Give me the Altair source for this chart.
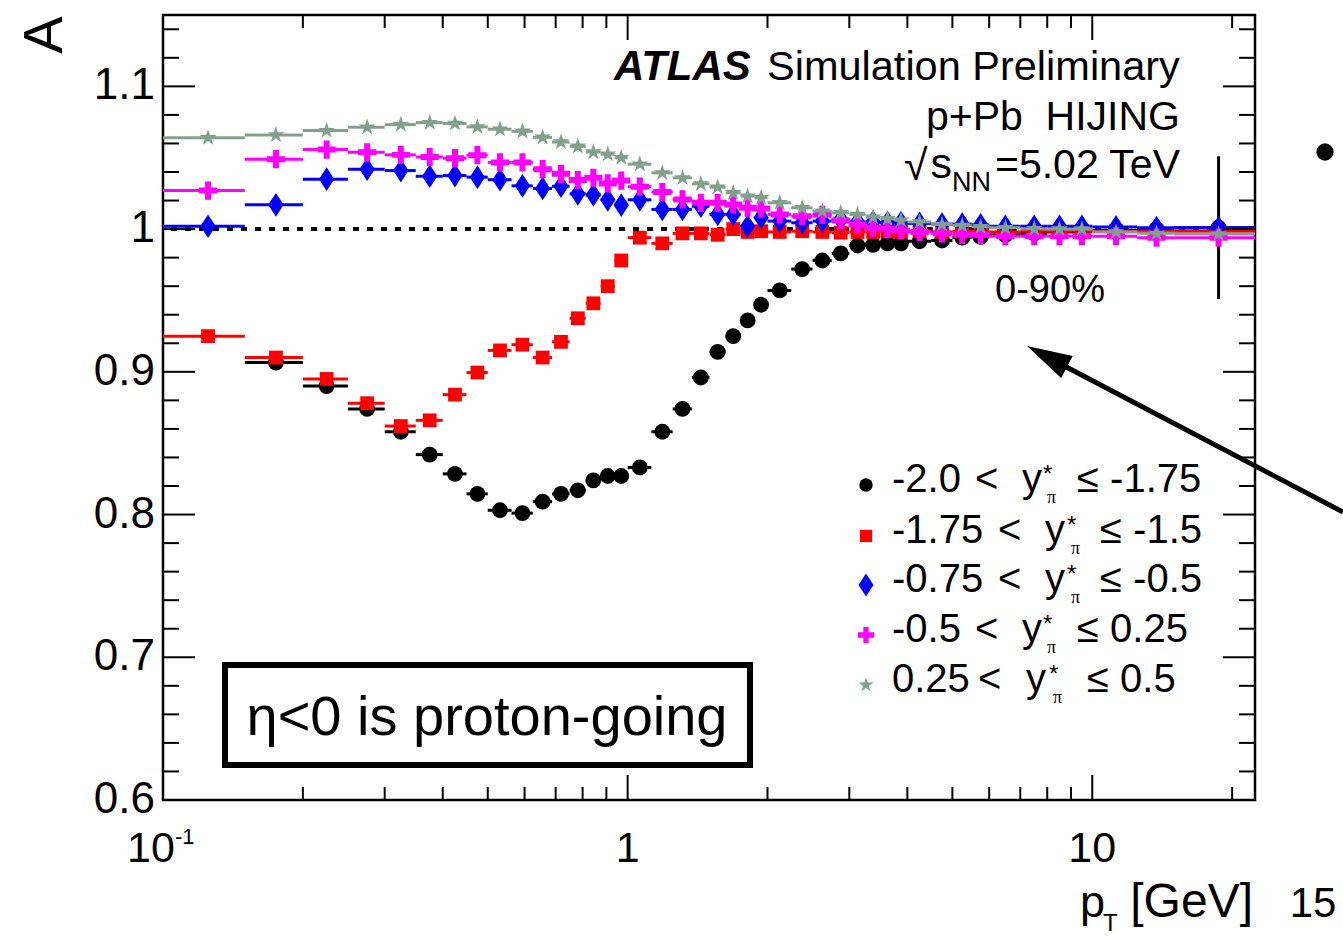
import altair as alt
import pandas as pd

# ---------------- data ----------------
edges = [0.1, 0.15, 0.2, 0.25, 0.3, 0.35, 0.4, 0.45, 0.5,
         0.5625, 0.625, 0.6875, 0.75, 0.8125, 0.875, 0.9375, 1.0,
         1.125, 1.25, 1.375, 1.5, 1.625, 1.75, 1.875, 2.0,
         2.25, 2.5, 2.75, 3.0, 3.25, 3.5, 3.75, 4.0,
         4.5, 5.0, 5.5, 6.0, 7.0, 8.0, 9.0, 10.0, 12.5, 15.0, 22.4]

black = [None, 0.9065, 0.890, 0.874, 0.858, 0.842, 0.8285, 0.8145, 0.803, 0.801,
         0.809, 0.8145, 0.817, 0.824, 0.827, 0.827, 0.833, 0.858, 0.874, 0.896,
         0.914, 0.925, 0.936, 0.947, 0.957, 0.972, 0.978, 0.983, 0.9885, 0.989,
         0.990, 0.990, 0.9915, 0.992, 0.994, 0.9945, 0.996, 0.997, 0.998, 0.998,
         0.999, 1.000, 1.001]
red = [0.925, 0.910, 0.895, 0.878, 0.862, 0.866, 0.884, 0.8995, 0.915, 0.919,
       0.910, 0.921, 0.9375, 0.948, 0.960, 0.978, 0.994, 0.990, 0.997, 0.997,
       0.996, 1.000, 0.998, 0.9985, 0.998, 0.9985, 0.998, 0.9975, 0.998, 0.998,
       0.9985, 0.998, 0.9985, 0.998, 0.9985, 0.9985, 0.998, 0.9985, 0.9985, 0.9985,
       0.9985, 0.9985, 0.9985]
blue = [1.002, 1.017, 1.035, 1.042, 1.041, 1.037, 1.0375, 1.0364, 1.0346, 1.0303,
        1.0285, 1.030, 1.0247, 1.024, 1.0205, 1.0168, 1.0205, 1.0138, 1.0138, 1.016,
        1.0103, 1.0103, 1.002, 1.008, 1.0056, 1.0044, 1.0056, 1.0068, 1.005, 1.005,
        1.0045, 1.0045, 1.004, 1.0035, 1.0035, 1.003, 1.002, 1.002, 1.002, 1.002,
        1.0015, 1.001, 1.001]
magenta = [1.027, 1.049, 1.0557, 1.0538, 1.052, 1.0505, 1.0497, 1.0518, 1.0467, 1.0467,
           1.042, 1.0387, 1.0344, 1.036, 1.032, 1.034, 1.0297, 1.026, 1.0208, 1.0184,
           1.0184, 1.0173, 1.015, 1.0145, 1.0103, 1.009, 1.010, 1.006, 1.0033, 1.001,
           1.000, 0.999, 0.998, 0.997, 0.996, 0.996, 0.995, 0.995, 0.995, 0.995,
           0.995, 0.994, 0.994]
grey = [1.064, 1.066, 1.069, 1.0713, 1.0732, 1.0746, 1.074, 1.0716, 1.070, 1.0685,
        1.0643, 1.061, 1.058, 1.054, 1.0525, 1.050, 1.0455, 1.0394, 1.0359, 1.0317,
        1.0294, 1.0254, 1.0231, 1.0219, 1.0184, 1.0149, 1.0126, 1.0114, 1.0103, 1.0084,
        1.0072, 1.0063, 1.005, 1.0033, 1.0026, 1.0016, 1.001, 1.0002, 1.0, 1.0,
        0.998, 0.997, 0.9965]
black_last_err = 0.05

series_names = ["-2.0 < y* ≤ -1.75", "-1.75 < y* ≤ -1.5", "-0.75 < y* ≤ -0.5",
                "-0.5 < y* ≤ 0.25", "0.25 < y* ≤ 0.5"]
series_values = [black, red, blue, magenta, grey]

y_tick_labels = [0.6, 0.7, 0.8, 0.9, 1.0, 1.1]
y_tick_text = ["0.6", "0.7", "0.8", "0.9", "1", "1.1"]
y_minor = [0.62, 0.64, 0.66, 0.68, 0.72, 0.74, 0.76, 0.78, 0.82, 0.84, 0.86, 0.88,
           0.92, 0.94, 0.96, 0.98, 1.02, 1.04, 1.06, 1.08, 1.12, 1.14]
x_major = [1, 10]
x_minor = [0.2, 0.3, 0.4, 0.5, 0.6, 0.7, 0.8, 0.9, 2, 3, 4, 5, 6, 7, 8, 9, 20]

# ---------------- styles ----------------
FONT = "Liberation Sans"
W, H = 1092, 785
colors = ["#000000", "#ff0000", "#0000ff", "#ff00ff", "#82a08e"]
DIAMOND = "M0,-1L0.65,0L0,1L-0.65,0Z"
CROSS = ("M-1,-0.33L-0.33,-0.33L-0.33,-1L0.33,-1L0.33,-0.33L1,-0.33L1,0.33"
         "L0.33,0.33L0.33,1L-0.33,1L-0.33,0.33L-1,0.33Z")
STAR = ("M0,-1L0.2245,-0.309L0.9511,-0.309L0.3633,0.118L0.5878,0.809L0,0.382"
        "L-0.5878,0.809L-0.3633,0.118L-0.9511,-0.309L-0.2245,-0.309Z")
shapes = ["circle", "square", DIAMOND, CROSS, STAR]
sizes = [250, 190, 560, 330, 310]
leg_sizes = [180, 150, 529, 260, 240]

xs = alt.Scale(type="log", domain=[0.1, 22.4], nice=False)
ys = alt.Scale(domain=[0.6, 1.15], nice=False, zero=False)

one = pd.DataFrame({"d": [0]})


def X(field):
    return alt.X(field, scale=xs, axis=None)


def Y(field):
    return alt.Y(field, scale=ys, axis=None)


def txt(text, x, y, size, align="left", baseline="alphabetic", weight="normal",
        style="normal", angle=0, font=FONT):
    return alt.Chart(one).mark_text(
        text=text, align=align, baseline=baseline, fontSize=size, font=font,
        fontWeight=weight, fontStyle=style, angle=angle, color="black"
    ).encode(x=alt.value(x), y=alt.value(y))


layers = []

# dotted reference line at 1
layers.append(alt.Chart(pd.DataFrame({"a": [1.0]})).mark_rule(
    color="black", strokeWidth=4, strokeDash=[6, 8]).encode(y=Y("a:Q")))

# series
for name, vals, col, shp, sz in zip(series_names, series_values, colors, shapes, sizes):
    rows = []
    for i, v in enumerate(vals):
        if v is None:
            continue
        lo, hi = edges[i], edges[i + 1]
        rows.append({"lo": lo, "hi": hi, "pt": (lo + hi) / 2, "a": v, "s": name})
    df = pd.DataFrame(rows)
    base = alt.Chart(df)
    layers.append(base.mark_rule(color=col, strokeWidth=3).encode(
        x=X("lo:Q"), x2="hi:Q", y=Y("a:Q")))
    if name == series_names[0]:
        last = df.iloc[[-1]].copy()
        last["e1"] = last["a"] - black_last_err
        last["e2"] = last["a"] + black_last_err
        layers.append(alt.Chart(last).mark_rule(color="black", strokeWidth=3).encode(
            x=X("pt:Q"), y=Y("e1:Q"), y2="e2:Q"))
    layers.append(base.mark_point(shape=shp, size=sz, filled=True, color=col,
                                  opacity=1, strokeWidth=0).encode(
        x=X("pt:Q"), y=Y("a:Q")))

# ticks (inside, ROOT style)
xmaj = pd.DataFrame({"v": x_major})
xmin = pd.DataFrame({"v": x_minor})
ymaj = pd.DataFrame({"v": y_tick_labels})
ymin = pd.DataFrame({"v": y_minor})
for df, ln in ((xmaj, 25), (xmin, 13)):
    layers.append(alt.Chart(df).mark_rule(color="black", strokeWidth=2).encode(
        x=X("v:Q"), y=alt.value(H), y2=alt.value(H - ln)))
    layers.append(alt.Chart(df).mark_rule(color="black", strokeWidth=2).encode(
        x=X("v:Q"), y=alt.value(0), y2=alt.value(ln)))
for df, ln in ((ymaj, 32), (ymin, 16)):
    layers.append(alt.Chart(df).mark_rule(color="black", strokeWidth=2).encode(
        y=Y("v:Q"), x=alt.value(0), x2=alt.value(ln)))
    layers.append(alt.Chart(df).mark_rule(color="black", strokeWidth=2).encode(
        y=Y("v:Q"), x=alt.value(W), x2=alt.value(W - ln)))

# tick labels
ylab = pd.DataFrame({"v": y_tick_labels, "t": y_tick_text})
layers.append(alt.Chart(ylab).mark_text(align="right", baseline="middle", fontSize=44,
                                        font=FONT, dx=-8).encode(
    x=alt.value(0), y=Y("v:Q"), text="t:N"))
xlab = pd.DataFrame({"v": [1, 10], "t": ["1", "10"]})
layers.append(alt.Chart(xlab).mark_text(align="center", baseline="alphabetic",
                                        fontSize=43, font=FONT).encode(
    x=X("v:Q"), y=alt.value(H + 62), text="t:N"))
layers.append(alt.Chart(pd.DataFrame({"v": [0.1]})).mark_text(
    text="10", align="center", baseline="alphabetic", fontSize=43, font=FONT, dx=-12).encode(
    x=X("v:Q"), y=alt.value(H + 62)))
layers.append(alt.Chart(pd.DataFrame({"v": [0.1]})).mark_text(
    text="-1", align="left", baseline="alphabetic", fontSize=22, font=FONT, dx=12).encode(
    x=X("v:Q"), y=alt.value(H + 44)))

# axis titles
layers.append(txt("A", -118, 20, 56, align="center", baseline="middle", angle=270))
layers.append(txt("p", 917, 902, 45))
layers.append(txt("T", 940, 916, 24))
layers.append(txt("[GeV]", 1090, 902, 48, align="right"))
layers.append(txt("15", 1150, 902, 42, align="center"))

# ATLAS label
layers.append(txt("ATLAS", 451, 65, 42, weight="bold", style="italic"))
layers.append(txt("Simulation Preliminary", 604, 65, 41.5))
layers.append(txt("p+Pb\u00a0\u00a0HIJING", 1017, 115, 41, align="right"))
layers.append(txt("=5.02 TeV", 1017, 163, 41, align="right"))
layers.append(txt("NN", 828, 176, 27, align="right"))
layers.append(txt("s", 789, 163, 43, align="right"))
layers.append(txt("√", 741, 165, 43, align="left"))
layers.append(txt("0-90%", 887, 287, 38, align="center"))

# box
layers.append(alt.Chart(one).mark_rect(fill="white", stroke="black", strokeWidth=6).encode(
    x=alt.value(62), x2=alt.value(587), y=alt.value(650), y2=alt.value(750)))
layers.append(txt("η<0 is proton-going", 324, 720, 56, align="center"))

# legend
leg_y = [470, 521, 570, 620, 670]
leg_lt = [975, 998, 998, 975, 978]
leg_y_pos = [1022, 1045, 1045, 1022, 1026]
leg_star = [1043, 1067, 1067, 1043, 1049]
leg_le = [1077, 1100, 1100, 1077, 1087]
leg_lo = ["-2.0", "-1.75", "-0.75", "-0.5", "0.25"]
leg_hi = ["≤ -1.75", "≤ -1.5", "≤ -0.5", "≤ 0.25", "≤ 0.5"]
for i in range(5):
    cy = leg_y[i]
    layers.append(alt.Chart(one).mark_point(shape=shapes[i], size=leg_sizes[i], filled=True,
                                            color=colors[i], opacity=1, strokeWidth=0).encode(
        x=alt.value(703), y=alt.value(cy)))
    layers.append(txt(leg_lo[i], 729, cy + 7, 40))
    layers.append(txt("<", leg_lt[i] - 163, cy + 7, 40))
    layers.append(txt("y", leg_y_pos[i] - 163, cy + 7, 40))
    layers.append(txt("*", leg_star[i] - 163, cy - 3, 24))
    layers.append(txt("π", leg_star[i] - 159, cy + 18, 18, font="Liberation Serif"))
    layers.append(txt(leg_hi[i], leg_le[i] - 163, cy + 7, 40))

# arrow and bullet outside the frame
layers.append(alt.Chart(one).mark_rule(color="black", strokeWidth=5).encode(
    x=alt.value(1180), y=alt.value(497), x2=alt.value(890), y2=alt.value(345)))
layers.append(alt.Chart(one).mark_point(shape="M0,-1L0.55,1L-0.55,1Z", size=2025, angle=297.7,
                                        filled=True, color="black", opacity=1,
                                        strokeWidth=0).encode(
    x=alt.value(884), y=alt.value(341.5)))
layers.append(alt.Chart(one).mark_point(shape="circle", size=300, filled=True,
                                        color="black", opacity=1).encode(
    x=alt.value(1162), y=alt.value(137)))

chart = alt.layer(*layers).properties(
    width=W, height=H,
    autosize=alt.AutoSizeParams(type="none"),
    padding={"left": 163, "top": 15, "right": 88, "bottom": 136},
).configure_view(stroke="black", strokeWidth=2.5)

chart.save("out.html", embed_options={"renderer": "svg", "actions": False})
